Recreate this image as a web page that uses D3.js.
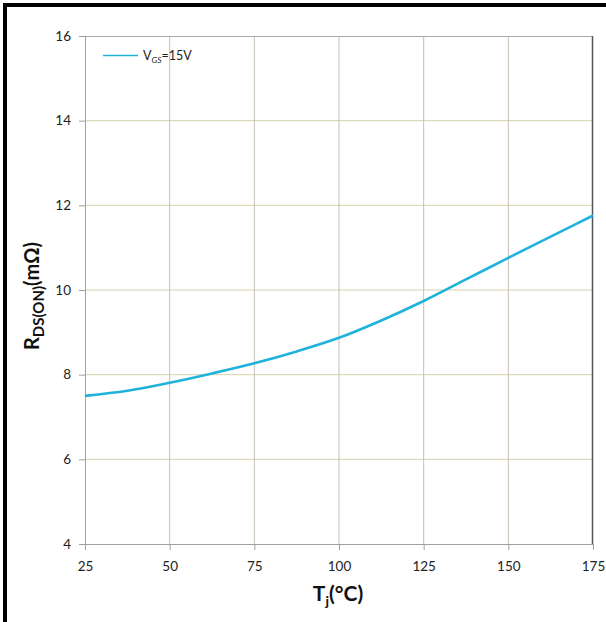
<!DOCTYPE html>
<html>
<head>
<meta charset="utf-8">
<script src="https://cdn.jsdelivr.net/npm/d3@7"></script>
<style>
  html, body { margin: 0; padding: 0; background: #fff; }
  svg { display: block; }
</style>
</head>
<body>
<svg id="chart" width="606" height="622"></svg>
<script>
// Junction temperature (°C) and on-resistance (mΩ) at VGS = 15 V
const tempC = [25, 37.5, 50, 62.5, 75, 87.5, 100, 112.5, 125, 137.5, 150, 162.5, 175];
const rdsOn = [7.5, 7.62, 7.81, 8.03, 8.27, 8.55, 8.87, 9.28, 9.74, 10.25, 10.76, 11.26, 11.76];
const xTicks = [25, 50, 75, 100, 125, 150, 175];
const yTicks = [4, 6, 8, 10, 12, 14, 16];
const seriesLabel = "GS";

const svg = d3.select("#chart");
const W = 606, H = 622;
const m = { left: 85, top: 36, right: 593, bottom: 544 };
const font = "Lato, 'Open Sans', sans-serif";

// outer frame (left and top edges)
svg.append("rect").attr("x", 0).attr("y", 0).attr("width", W).attr("height", H).attr("fill", "#fff");
svg.append("line").attr("x1", 5).attr("x2", 5).attr("y1", 3).attr("y2", H).attr("stroke", "#000").attr("stroke-width", 4);
svg.append("line").attr("x1", 3).attr("x2", W).attr("y1", 5).attr("y2", 5).attr("stroke", "#000").attr("stroke-width", 4);

const x = d3.scaleLinear().domain([25, 175]).range([m.left, m.right]);
const y = d3.scaleLinear().domain([4, 16]).range([m.bottom, m.top]);

// grid
svg.append("g").selectAll("line").data(yTicks.slice(1, -1)).join("line")
  .attr("x1", m.left).attr("x2", m.right)
  .attr("y1", d => y(d)).attr("y2", d => y(d))
  .attr("stroke", "#d6d2ad").attr("stroke-width", 1);
svg.append("g").selectAll("line").data(xTicks.slice(1, -1)).join("line")
  .attr("y1", m.top).attr("y2", m.bottom)
  .attr("x1", d => x(d)).attr("x2", d => x(d))
  .attr("stroke", "#c4c0b4").attr("stroke-width", 1);

// plot box edges
svg.append("line").attr("x1", m.left).attr("x2", m.right).attr("y1", m.top + 0.5).attr("y2", m.top + 0.5)
  .attr("stroke", "#a8a8a8").attr("stroke-width", 1);
svg.append("line").attr("x1", m.right - 0.5).attr("x2", m.right - 0.5).attr("y1", m.top).attr("y2", m.bottom)
  .attr("stroke", "#555").attr("stroke-width", 1.5);

// axes
const xAxis = svg.append("g").attr("transform", `translate(0,${m.bottom})`)
  .call(d3.axisBottom(x).tickValues(xTicks).tickSize(6).tickPadding(11).tickFormat(d3.format("d")));
const yAxis = svg.append("g").attr("transform", `translate(${m.left},0)`)
  .call(d3.axisLeft(y).tickValues(yTicks).tickSize(6).tickPadding(8).tickFormat(d3.format("d")));
[xAxis, yAxis].forEach(g => {
  g.select(".domain").attr("stroke", "#a0a0a0");
  g.selectAll(".tick line").attr("stroke", "#a0a0a0");
  g.selectAll(".tick text").attr("fill", "#222").style("font-family", font).style("font-size", "13.5px");
});

// curve
const line = d3.line().x((d, i) => x(tempC[i])).y(d => y(d)).curve(d3.curveMonotoneX);
svg.append("path").datum(rdsOn).attr("d", line)
  .attr("fill", "none").attr("stroke", "#1fb3dc").attr("stroke-width", 2.6);

// legend
svg.append("line").attr("x1", 103).attr("x2", 138).attr("y1", 55.5).attr("y2", 55.5)
  .attr("stroke", "#1fb3dc").attr("stroke-width", 1.5);
const lt = svg.append("text").attr("x", 143).attr("y", 60)
  .style("font-family", font).style("font-size", "12.5px").attr("fill", "#222");
lt.append("tspan").text("V");
lt.append("tspan").attr("dy", 2.5).style("font-size", "8.5px").style("font-style", "italic").text(seriesLabel);
lt.append("tspan").attr("dy", -2.5).text("=15V");

// axis titles
const xt = svg.append("text").attr("x", 338).attr("y", 601).attr("text-anchor", "middle")
  .style("font-family", font).style("font-size", "21px").style("font-weight", "bold").attr("fill", "#111");
xt.append("tspan").text("T");
xt.append("tspan").attr("dy", 5).style("font-size", "14px").text("j");
xt.append("tspan").attr("dy", -5).text("(°C)");

const yt = svg.append("text").attr("transform", "translate(39,296) rotate(-90)").attr("text-anchor", "middle")
  .style("font-family", font).style("font-size", "20px").style("font-weight", "bold").attr("fill", "#111");
yt.append("tspan").text("R");
yt.append("tspan").attr("dy", 5).style("font-size", "15px").text("DS(ON)");
yt.append("tspan").attr("dy", -5).text("(mΩ)");
</script>
</body>
</html>
